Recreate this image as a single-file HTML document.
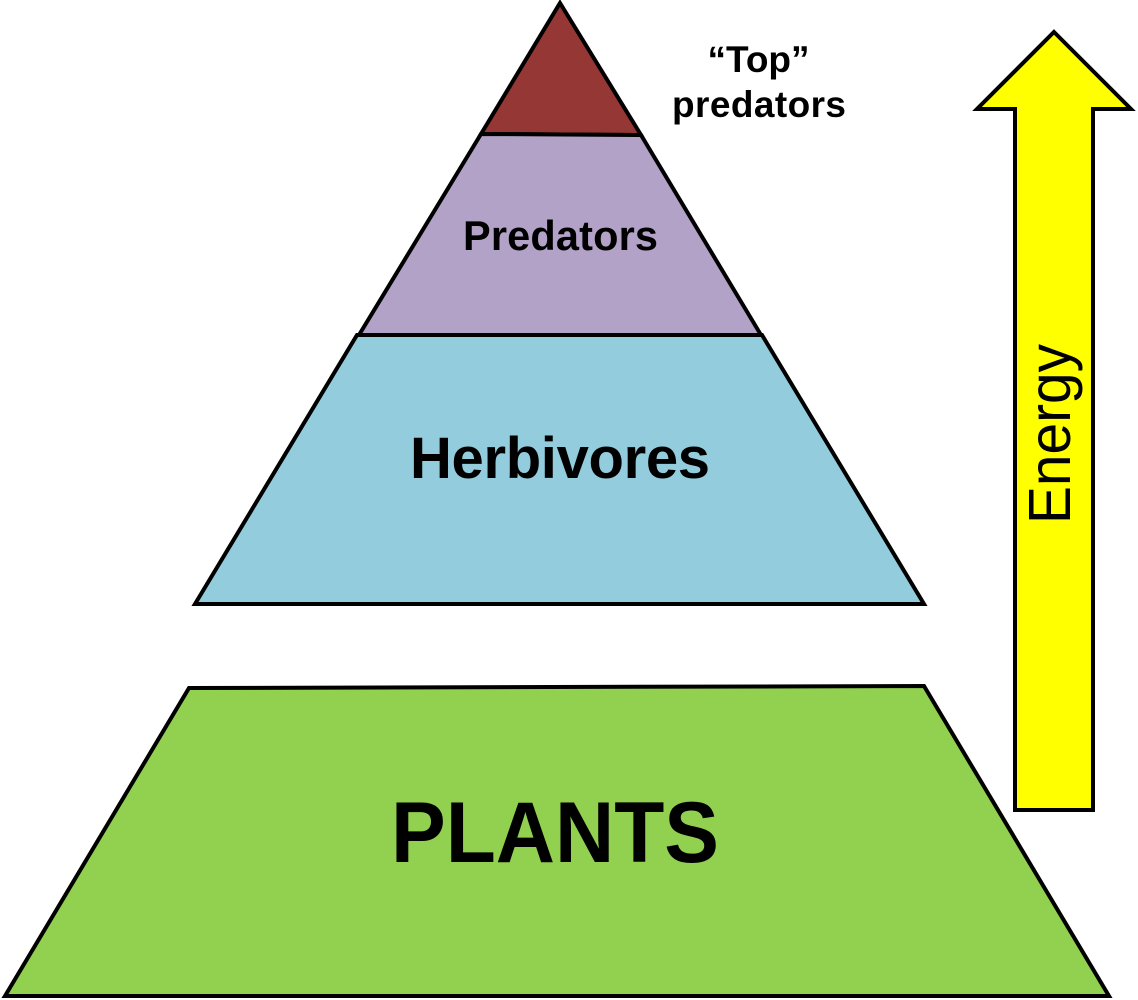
<!DOCTYPE html>
<html>
<head>
<meta charset="utf-8">
<style>
html,body{margin:0;padding:0;background:#fff;}
svg{display:block;}
text{font-family:"Liberation Sans",Arial,sans-serif;fill:#000;}
</style>
</head>
<body>
<svg width="1138" height="1000" viewBox="0 0 1138 1000" xmlns="http://www.w3.org/2000/svg">
<g stroke="#000" stroke-width="4" stroke-linejoin="miter">
<polygon points="560,3 641,135 481,134" fill="#953735"/>
<polygon points="481,134 641,135 761,335 359,335" fill="#b3a2c7"/>
<polygon points="357,335 762,335 924,604 195,604" fill="#93cddd"/>
<polygon points="189,688 924,686 1109,996 5,996" fill="#92d050"/>
<polygon points="1054,32 1131,109 1093,109 1093,810 1015,810 1015,109 977,109" fill="#ffff00"/>
</g>
<text x="463" y="250" font-size="41.5" font-weight="bold" textLength="195" lengthAdjust="spacing">Predators</text>
<text x="410" y="478" font-size="58" font-weight="bold" textLength="300" lengthAdjust="spacing">Herbivores</text>
<text x="391" y="862" font-size="86" font-weight="bold" textLength="328" lengthAdjust="spacingAndGlyphs">PLANTS</text>
<text x="758.5" y="72" font-size="37" font-weight="bold" text-anchor="middle">“Top”</text>
<text x="672" y="117" font-size="37" font-weight="bold" textLength="174" lengthAdjust="spacing">predators</text>
<text transform="translate(1070,524) rotate(-90)" font-size="59" textLength="180" lengthAdjust="spacingAndGlyphs">Energy</text>
</svg>
</body>
</html>
